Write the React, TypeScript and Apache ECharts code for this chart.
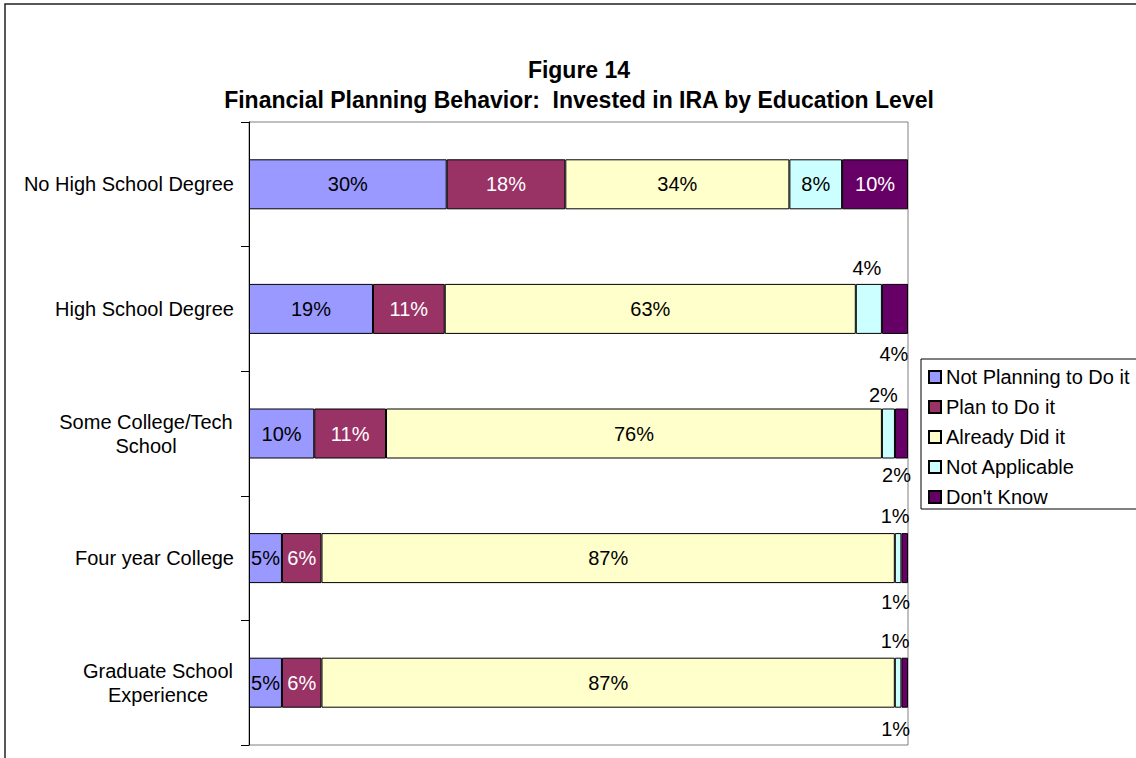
import React, { useEffect, useRef } from "react";
import * as echarts from "echarts";

const categories = [
  "No High School Degree",
  "High School Degree",
  "Some College/Tech School",
  "Four year College",
  "Graduate School Experience",
];
const seriesNames = [
  "Not Planning to Do it",
  "Plan to Do it",
  "Already Did it",
  "Not Applicable",
  "Don't Know",
];
const notPlanning = [30, 19, 10, 5, 5];
const planTo = [18, 11, 11, 6, 6];
const alreadyDid = [34, 63, 76, 87, 87];
const notApplicable = [8, 4, 2, 1, 1];
const dontKnow = [10, 4, 2, 1, 1];

const colors = ["#9999FF", "#993366", "#FFFFCC", "#CCFFFF", "#660066"];
const labelColors = ["#000", "#fff", "#000", "#000", "#fff"];

// label placement overrides for small segments (style only)
const naLabelStyle: any[] = [
  null,
  { position: "top", distance: 6, offset: [-2, 0] },
  { position: "top", distance: 4, offset: [-5, 0] },
  { position: "top", distance: 7, offset: [-3, 0] },
  { position: "top", distance: 7, offset: [-3, 0] },
];
const dkLabelStyle: any[] = [
  null,
  { position: "bottom", distance: 10, offset: [-1, 0] },
  { position: "bottom", distance: 6, offset: [-5, 0] },
  { position: "bottom", distance: 9, offset: [-9, 0] },
  { position: "bottom", distance: 11, offset: [-9, 0] },
];

export default function App() {
  const ref = useRef<HTMLDivElement>(null);
  useEffect(() => {
    if (!ref.current) return;
    const chart = echarts.init(ref.current, undefined, { renderer: "svg" });
    const raw = [notPlanning, planTo, alreadyDid, notApplicable, dontKnow];
    const totals = categories.map((_, i) => raw.reduce((s, a) => s + a[i], 0));
    const overrides = [null, null, null, naLabelStyle, dkLabelStyle];
    const font = "'Liberation Sans', Arial, sans-serif";
    const fs = 20;

    const series = raw.map((arr, si) => ({
      name: seriesNames[si],
      type: "bar",
      stack: "total",
      barWidth: 50,
      itemStyle: { color: colors[si], borderColor: "#000", borderWidth: 1 },
      label: {
        show: true,
        position: "inside",
        color: labelColors[si],
        fontSize: fs,
        fontFamily: font,
        formatter: (p: any) => arr[p.dataIndex] + "%",
      },
      data: arr.map((v, i) => {
        const d: any = { value: (v / totals[i]) * 100 };
        const ov = overrides[si] && (overrides[si] as any[])[i];
        if (ov) d.label = { ...ov, color: "#000" };
        return d;
      }),
    }));

    chart.setOption({
      animation: false,
      backgroundColor: "#fff",
      title: {
        text: "Figure 14\nFinancial Planning Behavior:  Invested in IRA by Education Level",
        left: 574,
        top: 50,
        textAlign: "center",
        textStyle: {
          fontSize: 23,
          fontWeight: "bold",
          fontFamily: font,
          color: "#000",
          lineHeight: 30,
        },
      },
      legend: {
        orient: "vertical",
        left: 921,
        top: 359,
        padding: [8, 30, 2, 7],
        itemWidth: 12,
        itemHeight: 12,
        itemGap: 10,
        borderColor: "#000",
        borderWidth: 1,
        backgroundColor: "#fff",
        textStyle: { fontSize: fs, fontFamily: font, color: "#000", lineHeight: 18 },
        data: seriesNames.map((n) => ({ name: n, icon: "rect" })),
      },
      grid: {
        left: 249,
        top: 122,
        right: 228,
        bottom: 13,
        show: true,
        borderColor: "#808080",
        borderWidth: 1,
      },
      xAxis: {
        type: "value",
        min: 0,
        max: 100,
        show: false,
      },
      yAxis: {
        type: "category",
        inverse: true,
        data: categories,
        axisLine: { show: true, lineStyle: { color: "#000", width: 1 } },
        axisTick: { show: true, length: 8, lineStyle: { color: "#000" } },
        axisLabel: {
          margin: 15,
          fontSize: fs,
          fontFamily: font,
          color: "#000",
          lineHeight: 24,
          formatter: (v: string) => {
            if (v === "Some College/Tech School") return "{a|Some College/Tech}\n{a|School}";
            if (v === "Graduate School Experience") return "{b|Graduate School}\n{b|Experience}";
            return v;
          },
          rich: {
            a: { width: 176, align: "center", fontSize: fs, fontFamily: font, color: "#000", lineHeight: 24 },
            b: { width: 152, align: "center", fontSize: fs, fontFamily: font, color: "#000", lineHeight: 24 },
          },
        },
      },
      graphic: [
        {
          type: "rect",
          shape: { x: 5, y: 4, width: 1300, height: 900 },
          style: { fill: "none", stroke: "#222", lineWidth: 1.5 },
          silent: true,
        },
      ],
      series,
    });
    return () => chart.dispose();
  }, []);
  return (
    <div
      ref={ref}
      style={{ position: "absolute", left: 0, top: 0, width: 1136, height: 758 }}
    />
  );
}
